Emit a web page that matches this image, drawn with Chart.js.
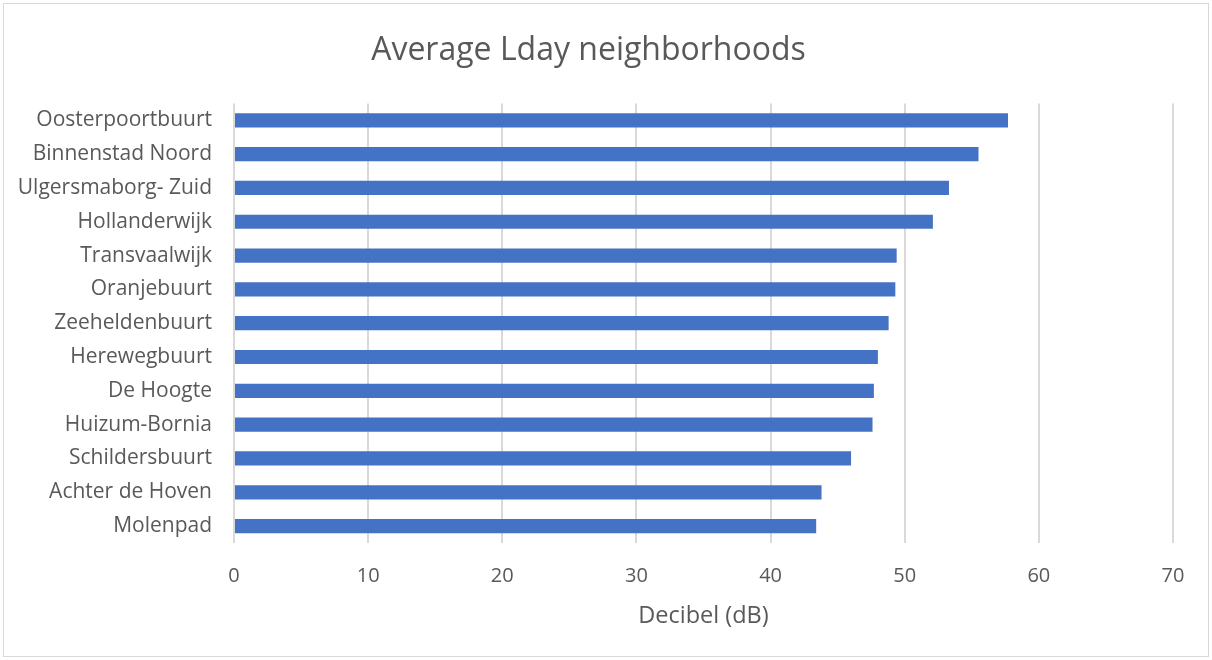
<!DOCTYPE html>
<html>
<head>
<meta charset="utf-8">
<script src="https://cdn.jsdelivr.net/npm/chart.js@4/dist/chart.umd.min.js"></script>
<style>
  html, body { margin: 0; padding: 0; background: #fff; }
  #frame { position: absolute; left: 3px; top: 3px; width: 1204px; height: 652px; border: 1px solid #d9d9d9; }
  #frame canvas { display: block; }
</style>
</head>
<body>
<div id="frame"><canvas id="ldayChart" width="1204" height="652"></canvas></div>
<script>
// Average Lday per neighborhood (dB)
const neighborhoods = ['Oosterpoortbuurt','Binnenstad Noord','Ulgersmaborg- Zuid','Hollanderwijk','Transvaalwijk','Oranjebuurt','Zeeheldenbuurt','Herewegbuurt','De Hoogte','Huizum-Bornia','Schildersbuurt','Achter de Hoven','Molenpad'];
const ldayValues = [57.7, 55.5, 53.3, 52.1, 49.4, 49.3, 48.8, 48.0, 47.7, 47.6, 46.0, 43.8, 43.4];
const xTicks = [0, 10, 20, 30, 40, 50, 60, 70];

const textColor = '#595959';
const fontFamily = '"Open Sans", "Noto Sans", sans-serif';

function createBarChart(ctx, data, options){
  return new Chart(ctx, { type: 'bar', data: data, options: options || {} });
}

const ctx = document.getElementById('ldayChart').getContext('2d');
createBarChart(ctx, {
  labels: neighborhoods,
  datasets: [{ label: 'Lday', data: ldayValues, backgroundColor: '#4472c4', barPercentage: 0.42, categoryPercentage: 1 }]
}, {
  indexAxis: 'y',
  responsive: false,
  animation: false,
  layout: { padding: { left: 0, right: 35, top: 0, bottom: 0 } },
  plugins: {
    legend: { display: false },
    tooltip: { enabled: false },
    title: {
      display: true,
      text: 'Average Lday neighborhoods',
      color: textColor,
      font: { family: fontFamily, size: 32, weight: 'normal' },
      padding: { top: 28, bottom: 33 }
    }
  },
  scales: {
    x: {
      min: xTicks[0],
      max: xTicks[xTicks.length - 1],
      afterBuildTicks: axis => { axis.ticks = xTicks.map(v => ({ value: v })); },
      grid: { color: '#d9d9d9', lineWidth: 2, drawTicks: false },
      border: { display: false },
      ticks: { color: textColor, padding: 21, font: { family: fontFamily, size: 20 } },
      title: { display: true, text: 'Decibel (dB)', color: textColor, padding: { top: 0, bottom: 26 }, font: { family: fontFamily, size: 23.5 } },
      afterFit: axis => { axis.height = 113; }
    },
    y: {
      grid: { display: false, drawTicks: false },
      border: { display: false },
      ticks: { color: textColor, padding: 22, font: { family: fontFamily, size: 21 } },
      afterFit: axis => { axis.width = 230; }
    }
  }
});
</script>
</body>
</html>
